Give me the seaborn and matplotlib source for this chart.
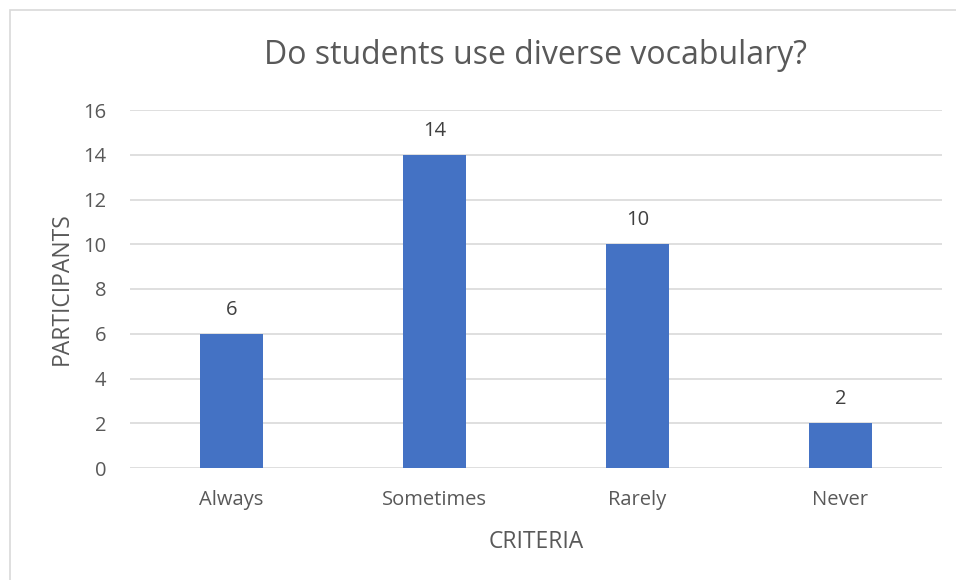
import matplotlib
matplotlib.use("Agg")
import matplotlib.pyplot as plt
import seaborn as sns
import pandas as pd
from matplotlib.patches import Rectangle

categories = ["Always", "Sometimes", "Rarely", "Never"]
participants = [6, 14, 10, 2]
yticks = [0, 2, 4, 6, 8, 10, 12, 14, 16]

sns.set_theme(style="white")
plt.rcParams['font.family'] = ['Open Sans', 'DejaVu Sans']

W, H = 956, 580
fig = plt.figure(figsize=(W / 100, H / 100), dpi=100)
ax = fig.add_axes([130 / W, 1 - 468 / H, (942 - 130) / W, (468 - 110) / H])

df = pd.DataFrame({"cat": categories, "val": participants})
sns.barplot(data=df, x="cat", y="val", color="#4472C4", saturation=1,
            width=0.31, ax=ax, zorder=3)
for p in ax.patches:
    p.set_edgecolor("none")

ax.set_xlim(-0.5, len(categories) - 0.5)
ax.set_ylim(0, 16)
ax.set_yticks(yticks)
ax.yaxis.grid(True, color="#D9D9D9", linewidth=1.2, zorder=0)
ax.set_axisbelow(True)
for s in ax.spines.values():
    s.set_visible(False)
ax.tick_params(axis="both", length=0, labelsize=14.5, colors="#595959")
ax.tick_params(axis="x", pad=16)
ax.tick_params(axis="y", pad=17)

for i, v in enumerate(participants):
    ax.annotate(str(v), (i, v), xytext=(0, 10), textcoords="offset points",
                ha="center", va="bottom", fontsize=14.5, color="#404040")

ax.set_xlabel("CRITERIA", fontsize=16.5, color="#595959", labelpad=14)
ax.set_ylabel("PARTICIPANTS", fontsize=16.5, color="#595959", labelpad=7)

fig.text((130 + 942) / 2 / W, 1 - 55 / H, "Do students use diverse vocabulary?",
         ha="center", va="center", fontsize=23, color="#595959")

fig.patches.append(Rectangle((10 / W, -0.5), 2, 1.5 - 10 / H, transform=fig.transFigure,
                             fill=False, edgecolor="#D9D9D9", linewidth=1.2))

fig.savefig("out.png", dpi=100)
